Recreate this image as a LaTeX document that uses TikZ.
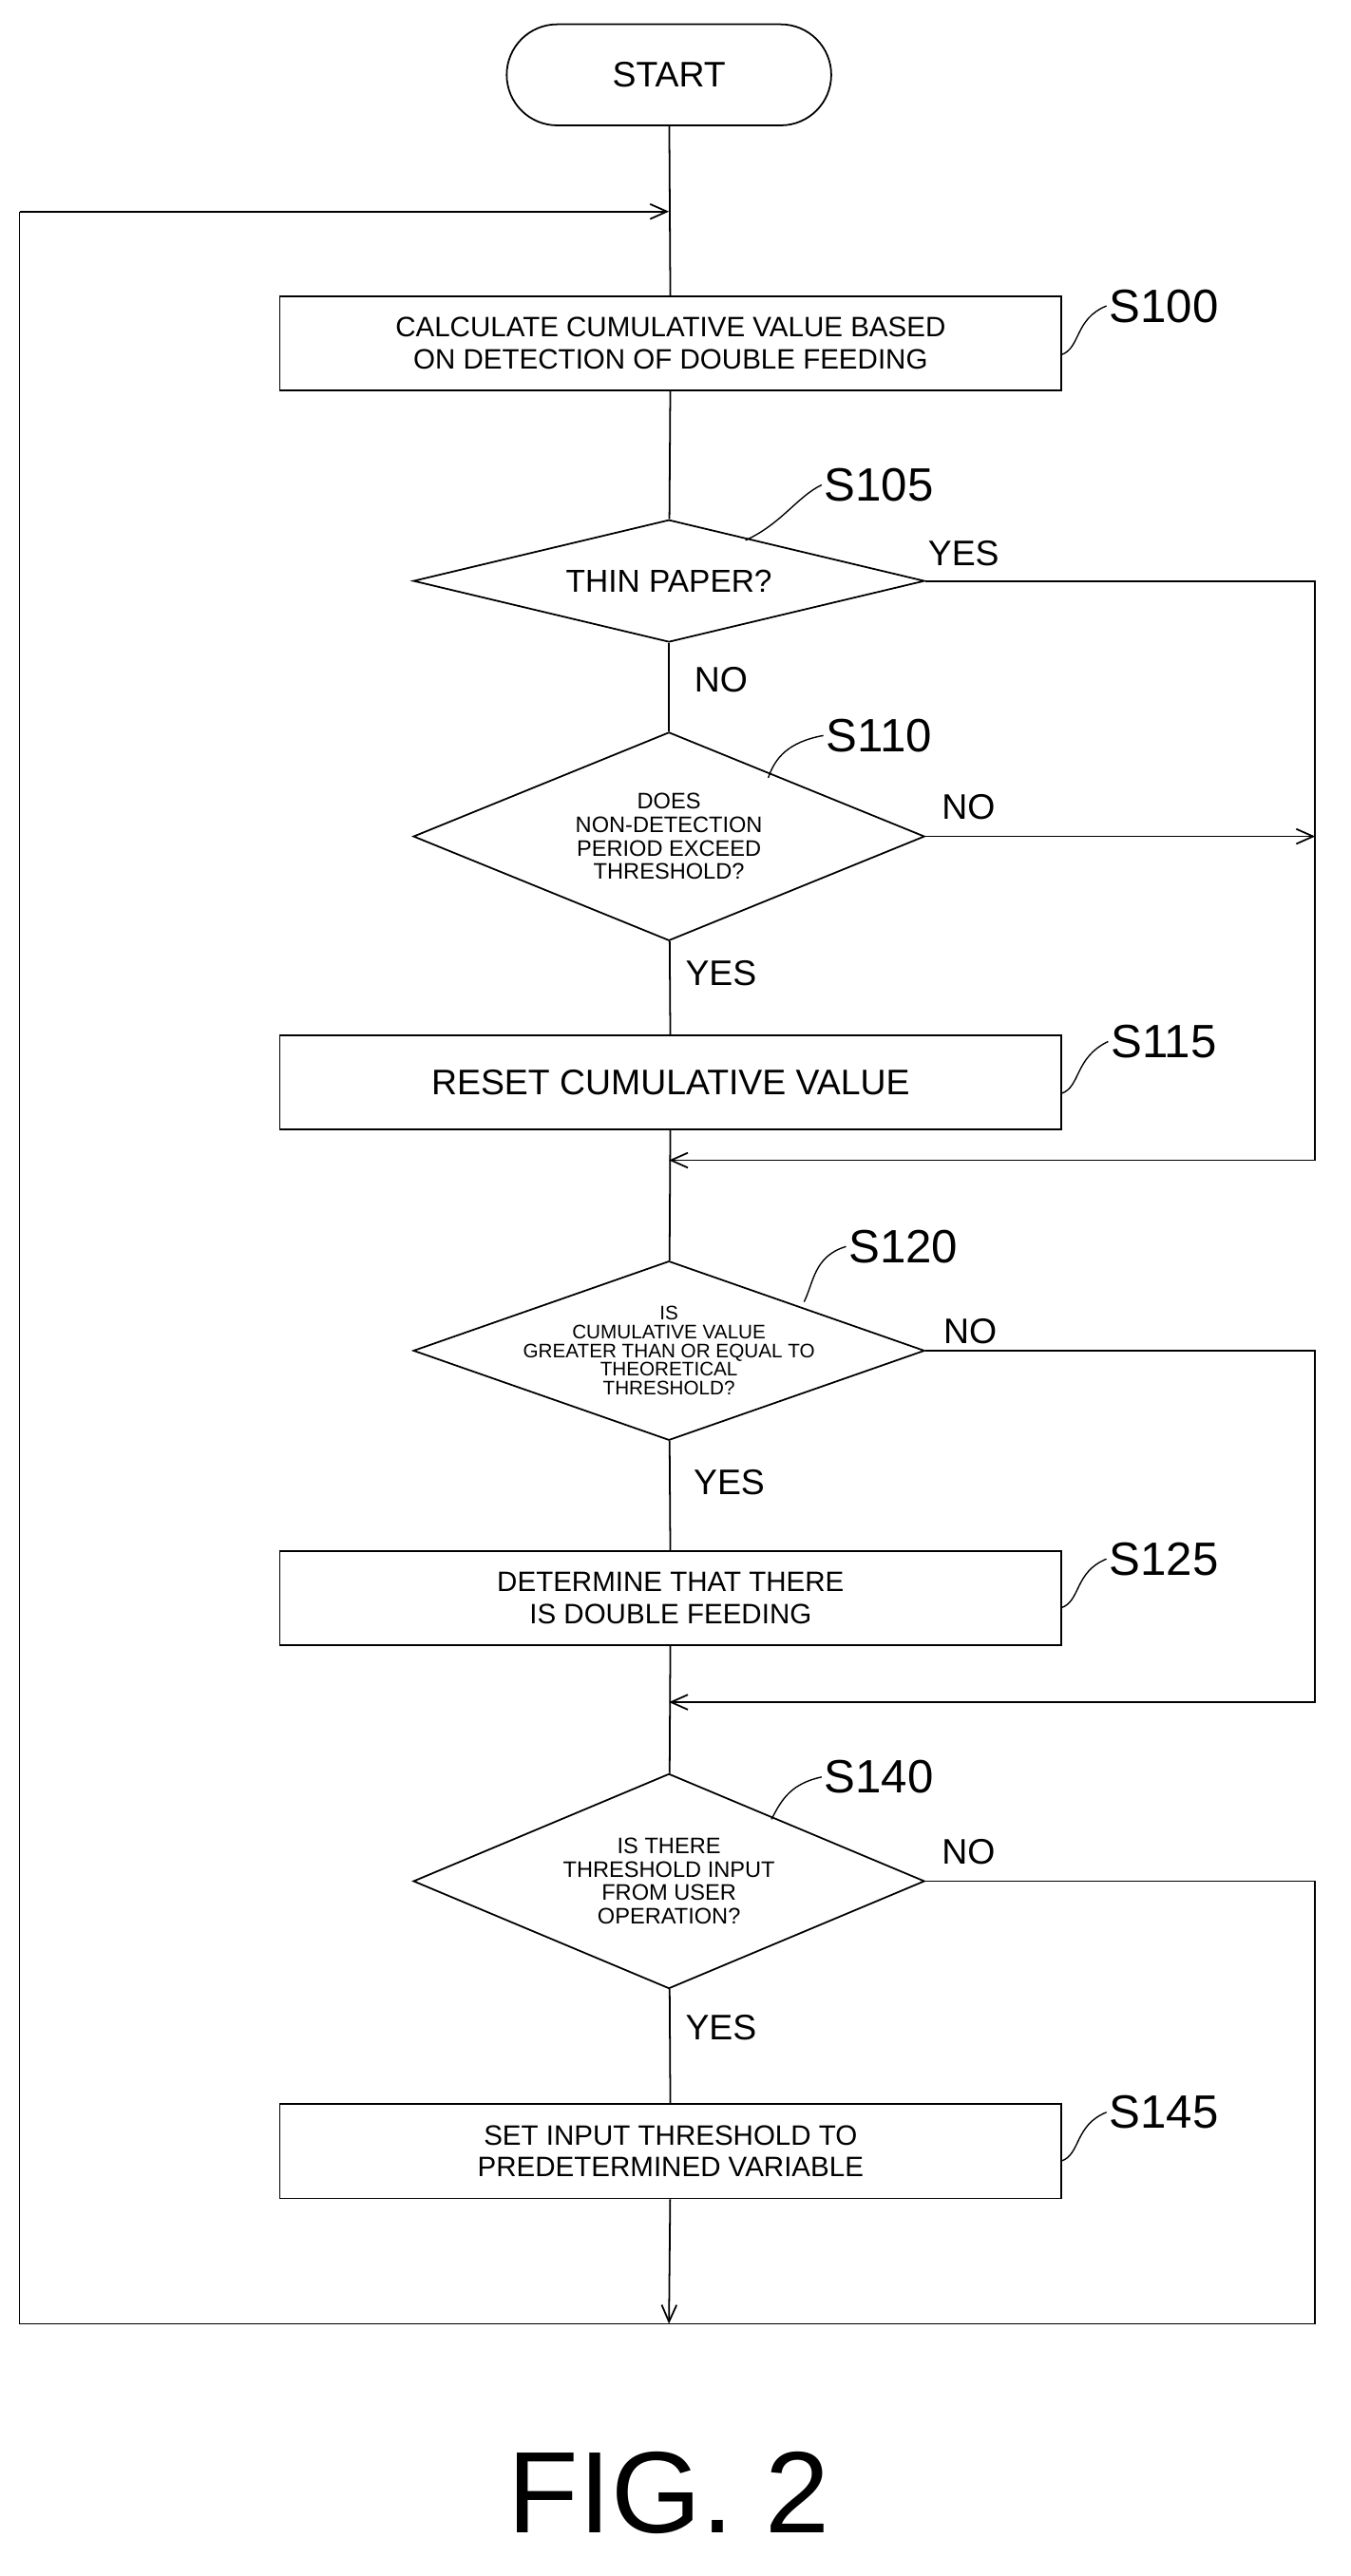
\documentclass[tikz,border=0pt]{standalone}
\usepackage{fontspec}
\setmainfont{Liberation Sans}
\usetikzlibrary{shapes.geometric,arrows.meta}
\begin{document}
\begin{tikzpicture}[x=0.0306cm,y=-0.0306cm,line width=0.9pt,
  box/.style={draw,minimum width=14.69cm,minimum height=1.77cm,inner sep=0pt,align=center,font=\fontsize{15}{17}\selectfont},
  dia/.style={draw,diamond,aspect=4,inner sep=0pt,minimum width=9.61cm},
  dtxt/.style={align=center,inner sep=0pt,font=\fontsize{12}{12.5}\selectfont},
  lab/.style={font=\fontsize{25}{25}\selectfont,inner sep=1pt},
  yn/.style={font=\fontsize{19}{19}\selectfont,inner sep=1pt},
  arr/.style={-{Straight Barb[length=9pt,width=8pt]}}]
\useasboundingbox (0,0) rectangle (830,1583);
\node[draw,rounded corners=0.95cm,minimum width=6.1cm,minimum height=1.9cm,font=\fontsize{19}{19}\selectfont] (start) at (411,46) {START};
\node[box] (s100) at (412,211) {CALCULATE CUMULATIVE VALUE BASED\\ON DETECTION OF DOUBLE FEEDING};
\node[dia,minimum height=2.3cm] (s105) at (411,357) {};
\node[dtxt,font=\fontsize{17}{17}\selectfont] (t105) at (411,357) {THIN PAPER?};
\node[dia,minimum height=3.92cm] (s110) at (411,514) {};
\node[dtxt] (t110) at (411,514) {DOES\\NON-DETECTION\\PERIOD EXCEED\\THRESHOLD?};
\node[box,font=\fontsize{19}{19}\selectfont] (s115) at (412,665) {RESET CUMULATIVE VALUE};
\node[dia,minimum height=3.37cm] (s120) at (411,830) {};
\node[dtxt,font=\fontsize{10.5}{10}\selectfont] (t120) at (411,830) {IS\\CUMULATIVE VALUE\\GREATER THAN OR EQUAL TO\\THEORETICAL\\THRESHOLD?};
\node[box] (s125) at (412,982) {DETERMINE THAT THERE\\IS DOUBLE FEEDING};
\node[dia,minimum height=4.04cm] (s140) at (411,1156) {};
\node[dtxt] (t140) at (411,1156) {IS THERE\\THRESHOLD INPUT\\FROM USER\\OPERATION?};
\node[box] (s145) at (412,1322) {SET INPUT THRESHOLD TO\\PREDETERMINED VARIABLE};
% coordinates
\coordinate (j0) at (411,130);
\coordinate (tl) at (12,130);
\coordinate (bl) at (12,1428);
\coordinate (bm) at (411,1428);
\coordinate (br) at (808,1428);
\coordinate (r105) at (808,357);
\coordinate (r110) at (808,514);
\coordinate (r115) at (808,713);
\coordinate (j1) at (411,713);
\coordinate (r120a) at (808,830);
\coordinate (r120b) at (808,1046);
\coordinate (j2) at (411,1046);
\coordinate (r140) at (808,1156);
% main flow
\draw (start) -- (s100);
\draw (s100) -- (s105);
\draw (s105) -- (s110);
\draw (s110) -- (s115);
\draw (s115) -- (s120);
\draw (s120) -- (s125);
\draw (s125) -- (s140);
\draw (s140) -- (s145);
\draw[arr] (s145) -- (bm);
% branches
\draw[arr] (s105.east) -- (r105) -- (r115) -- (j1);
\draw[arr] (s110.east) -- (r110);
\draw[arr] (s120.east) -- (r120a) -- (r120b) -- (j2);
\draw (s140.east) -- (r140) -- (br) -- (bl) -- (tl);
\draw[arr] (tl) -- (j0);
% yes/no
\node[yn] at (592,340) {YES};
\node[yn] at (443,418) {NO};
\node[yn] at (595,496) {NO};
\node[yn] at (443,598) {YES};
\node[yn] at (596,818) {NO};
\node[yn] at (448,911) {YES};
\node[yn] at (595,1138) {NO};
\node[yn] at (443,1246) {YES};
% step labels
\node[lab] (l100) at (715,188) {S100};
\node[lab] (l105) at (540,298) {S105};
\node[lab] (l110) at (540,452) {S110};
\node[lab] (l115) at (715,640) {S115};
\node[lab] (l120) at (555,766) {S120};
\node[lab] (l125) at (715,958) {S125};
\node[lab] (l140) at (540,1092) {S140};
\node[lab] (l145) at (715,1298) {S145};
\draw[line width=0.7pt] (652,218) .. controls (664,214) and (660,196) .. (l100.west);
\draw[line width=0.7pt] (458,332) .. controls (480,322) and (490,305) .. (l105.west);
\draw[line width=0.7pt] (472,478) .. controls (476,466) and (484,456) .. (l110.west);
\draw[line width=0.7pt] (652,672) .. controls (664,668) and (660,650) .. (l115.west);
\draw[line width=0.7pt] (494,800) .. controls (500,788) and (500,772) .. (l120.west);
\draw[line width=0.7pt] (652,988) .. controls (664,984) and (660,966) .. (l125.west);
\draw[line width=0.7pt] (474,1118) .. controls (480,1106) and (486,1096) .. (l140.west);
\draw[line width=0.7pt] (652,1328) .. controls (664,1324) and (660,1306) .. (l145.west);
\node[font=\fontsize{62}{62}\selectfont] (fig) at (411,1532) {FIG. 2};
\end{tikzpicture}
\end{document}
